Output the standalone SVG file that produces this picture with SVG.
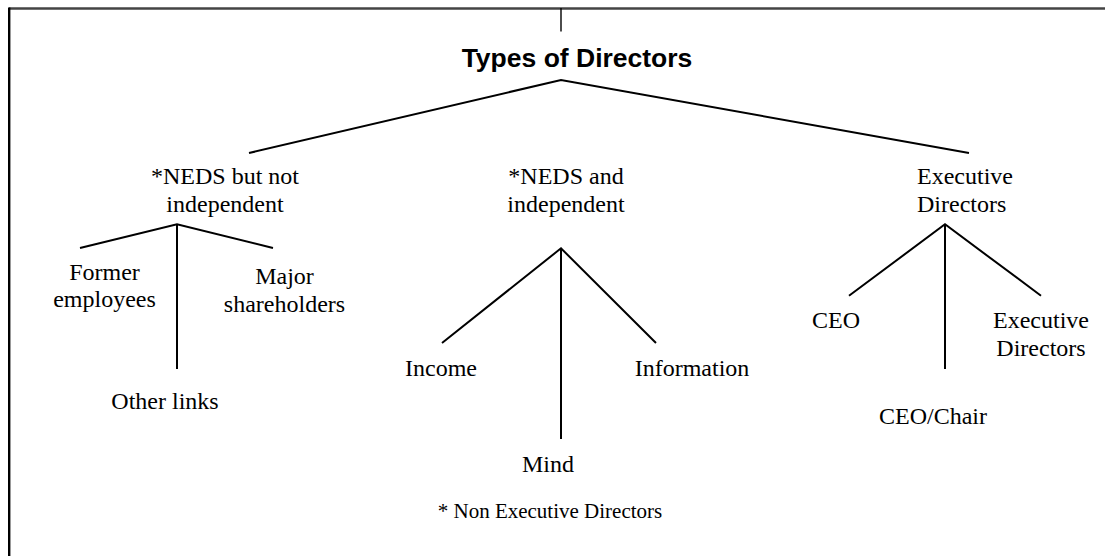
<svg xmlns="http://www.w3.org/2000/svg" width="1105" height="556" viewBox="0 0 1105 556">
<style>
.t{font-family:"Liberation Serif","Times New Roman",serif;font-size:24px;fill:#000}
.c{text-anchor:middle}
.h{font-family:"Liberation Sans",Arial,sans-serif;font-size:26.5px;font-weight:bold;text-anchor:middle;fill:#000}
.n{font-family:"Liberation Serif","Times New Roman",serif;font-size:21px;text-anchor:middle;fill:#000}
.ln{stroke:#000;stroke-width:2;fill:none;stroke-linecap:butt}
</style>
<rect x="0" y="0" width="1105" height="556" fill="#fff"/>
<g id="frame">
<line x1="9" y1="8.5" x2="1110" y2="8.5" stroke="#444" stroke-width="2.5"/>
<line x1="9.2" y1="7.5" x2="9.2" y2="560" stroke="#000" stroke-width="2.4"/>
</g>
<g id="connectors">
<line class="ln" x1="561" y1="8" x2="561" y2="31.5" style="stroke-width:1.4"/>
<polyline class="ln" points="249,153 561,80 969,153"/>
<polyline class="ln" points="80,248 177,224.3 273,248"/>
<line class="ln" x1="177" y1="224.3" x2="177" y2="369"/>
<polyline class="ln" points="442,343 561,248.3 656,343"/>
<line class="ln" x1="561" y1="248.3" x2="561" y2="439"/>
<polyline class="ln" points="849,295.7 945,224.3 1041,295.7"/>
<line class="ln" x1="945" y1="224.3" x2="945" y2="369"/>
</g>
<g id="title"><text class="h" x="577" y="66.5">Types of Directors</text></g>
<g id="neds-not-independent"><text class="t c" x="225" y="184">*NEDS but not</text><text class="t c" x="225" y="212">independent</text></g>
<g id="neds-independent"><text class="t c" x="566" y="184">*NEDS and</text><text class="t c" x="566" y="212">independent</text></g>
<g id="executive-directors"><text class="t" x="917" y="184">Executive</text><text class="t" x="917" y="212">Directors</text></g>
<g id="former-employees"><text class="t c" x="104.5" y="280">Former</text><text class="t c" x="104.5" y="307">employees</text></g>
<g id="major-shareholders"><text class="t c" x="284.5" y="284">Major</text><text class="t c" x="284.5" y="311.5">shareholders</text></g>
<g id="other-links"><text class="t c" x="165" y="409">Other links</text></g>
<g id="income"><text class="t c" x="441" y="375.5">Income</text></g>
<g id="information"><text class="t c" x="692" y="375.5">Information</text></g>
<g id="mind"><text class="t c" x="548" y="471.5">Mind</text></g>
<g id="ceo"><text class="t c" x="836" y="328">CEO</text></g>
<g id="exec-directors-sub"><text class="t c" x="1041" y="328">Executive</text><text class="t c" x="1041" y="355.5">Directors</text></g>
<g id="ceo-chair"><text class="t c" x="933" y="424">CEO/Chair</text></g>
<g id="footnote"><text class="n" x="550" y="517.5">* Non Executive Directors</text></g>
</svg>
